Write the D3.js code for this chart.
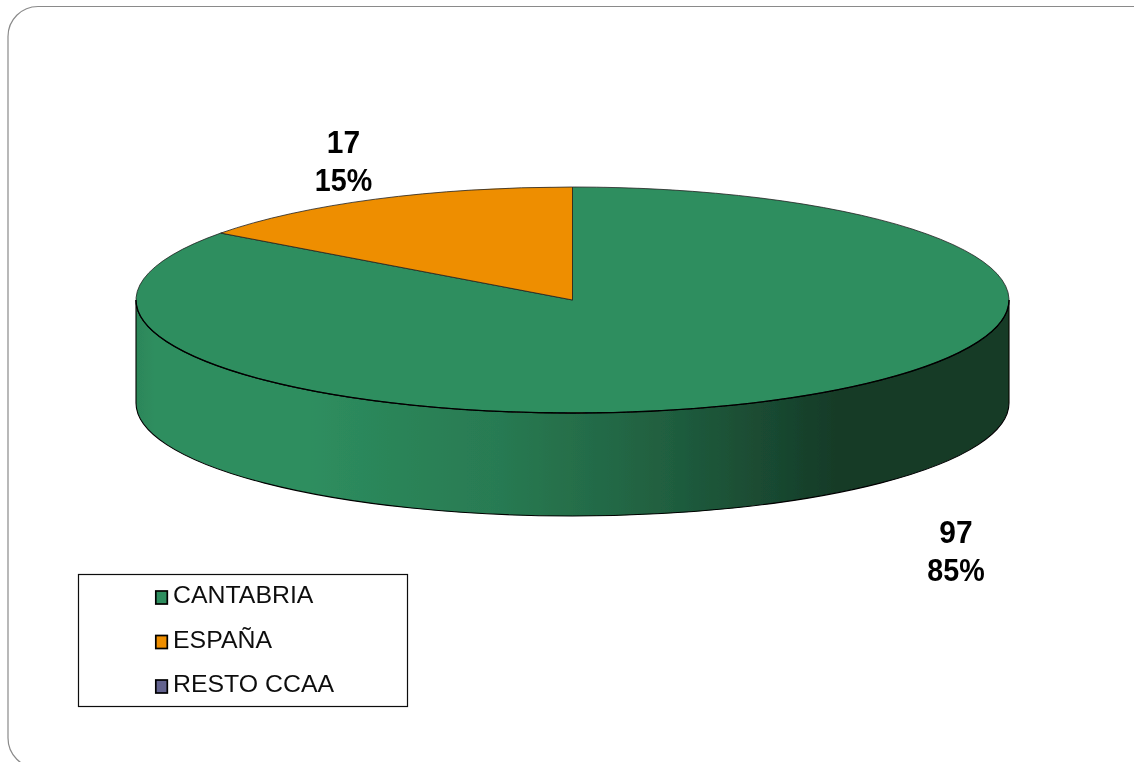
<!DOCTYPE html>
<html><head><meta charset="utf-8">
<script src="https://cdn.jsdelivr.net/npm/d3@7/dist/d3.min.js"></script>
<style>html,body{margin:0;padding:0;background:#fff;overflow:hidden}svg{display:block}text{font-family:"Liberation Sans",Arial,sans-serif}</style>
</head><body><svg id="c" width="1134" height="762"></svg>
<script>
const categories = ["CANTABRIA","ESPAÑA","RESTO CCAA"];
const values = [97,17,0];
const percentLabels = ["85%","15%","0%"];
const colors = ["#2e8e5f","#ee8e00","#64648f"];
const shownLabels = [0,1];

const cx=572.5, cy=300, rx=436.5, ry=113, depth=103;
const k=ry/rx;
const svg=d3.select("#c");
const defs=svg.append("defs");
const blur=defs.append("filter").attr("id","soft").attr("filterUnits","userSpaceOnUse")
  .attr("x",0).attr("y",0).attr("width",1134).attr("height",762);
blur.append("feGaussianBlur").attr("stdDeviation",0.55);

// frame
const f=svg.append("g").attr("filter","url(#soft)");
f.append("rect").attr("x",8).attr("y",6.5).attr("width",1180).attr("height",761.5).attr("rx",30).attr("ry",30)
 .attr("fill","#fff").attr("stroke","#8a8a8a").attr("stroke-width",1.2);

// side gradient (pixel stops along the wall, 0 = lit colour, 1 = darkest)
const stopX=[136,155,310,360,500,570,660,760,840,1009];
const stopD=[0.1,0,0,0.07,0.24,0.37,0.55,0.8,1,1];
const mix=d3.interpolateRgb("#2e8e5f","#153a27");
const offset=d3.scaleLinear().domain([cx-rx,cx+rx]).range([0,1]);
const g=defs.append("linearGradient").attr("id","side").attr("gradientUnits","userSpaceOnUse")
  .attr("x1",-rx).attr("x2",rx).attr("y1",0).attr("y2",0);
stopX.forEach((x,i)=>g.append("stop").attr("offset",offset(x)).attr("stop-color",mix(stopD[i])));

const pie=d3.pie().sort(null).value(d=>d);
const arcs=pie(values);
const arc=d3.arc().innerRadius(0).outerRadius(rx);

const chart=svg.append("g").attr("filter","url(#soft)");
const disc=chart.append("g").attr("transform",`translate(${cx},${cy}) scale(1,${k})`);

// front wall
const p=d3.path();
p.moveTo(rx,0);
p.arc(0,0,rx,0,Math.PI,false);
p.lineTo(-rx,depth/k);
p.arc(0,depth/k,rx,Math.PI,0,true);
p.closePath();
disc.append("path").attr("d",p.toString()).attr("fill","url(#side)")
  .attr("stroke","#000").attr("stroke-width",1.1).attr("vector-effect","non-scaling-stroke");

// top
disc.selectAll("path.slice").data(arcs.filter(a=>a.value>0)).join("path").attr("class","slice")
  .attr("d",arc).attr("fill",d=>colors[d.index])
  .attr("stroke","#222").attr("stroke-width",0.8).attr("vector-effect","non-scaling-stroke");

// front rim of the top face
const rim=d3.path();
rim.moveTo(rx,0);
rim.arc(0,0,rx,0,Math.PI,false);
disc.append("path").attr("d",rim.toString()).attr("fill","none")
  .attr("stroke","#000").attr("stroke-width",1.3).attr("vector-effect","non-scaling-stroke");

// value labels
const labelX=[956,343.5];
const labelY=[[543,581],[153,190.5]];
const lab=svg.append("g").attr("filter","url(#soft)").attr("font-weight","bold").attr("font-size",31.5).attr("fill","#000").attr("text-anchor","middle");
shownLabels.forEach((i,n)=>{
  lab.append("text").attr("transform",`translate(${labelX[n]},${labelY[n][0]}) scale(0.95,1)`).text(values[i]);
  lab.append("text").attr("transform",`translate(${labelX[n]},${labelY[n][1]}) scale(0.91,1)`).text(percentLabels[i]);
});

// legend
const lg=svg.append("g").attr("filter","url(#soft)");
lg.append("rect").attr("x",78.5).attr("y",574.5).attr("width",329).attr("height",132).attr("fill","#fff").attr("stroke","#111").attr("stroke-width",1.2);
const ly=d3.scalePoint().domain(categories).range([596,685]);
const row=lg.selectAll("g.r").data(categories).join("g").attr("class","r").attr("transform",d=>`translate(0,${ly(d)})`);
row.append("rect").attr("x",155.8).attr("y",-5).attr("width",11.5).attr("height",13)
  .attr("fill",(d,i)=>colors[i]).attr("stroke","#000").attr("stroke-width",1.7);
row.append("text").attr("transform","translate(173,7) scale(1.015,1)").attr("font-size",24.5).attr("fill","#111").text(d=>d);
</script></body></html>
